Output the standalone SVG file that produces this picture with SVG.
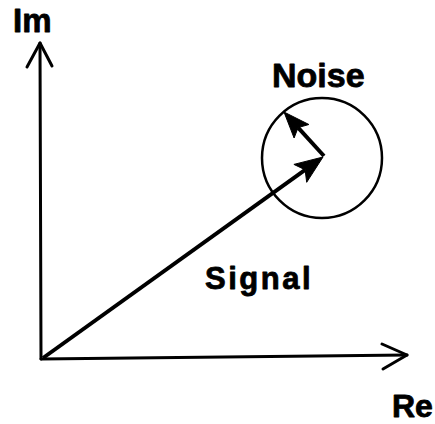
<svg xmlns="http://www.w3.org/2000/svg" width="435" height="424" viewBox="0 0 435 424">
<style>
.lbl{font-family:"Liberation Sans",Arial,sans-serif;font-weight:bold;fill:#000;stroke:#000;stroke-width:0.8;stroke-linejoin:round}
.ax{fill:none;stroke:#000;stroke-width:3;stroke-linecap:round;stroke-linejoin:round}
.vec{fill:none;stroke:#000;stroke-width:4;stroke-linecap:butt;stroke-linejoin:miter}
.head{fill:#000;stroke:#000;stroke-width:1;stroke-linejoin:miter}
</style>
<rect width="435" height="424" fill="#fff"/>
<g id="connectors">
<g id="re-axis">
<path class="ax" d="M41,359 L407,355"/>
<path class="ax" d="M382,344 L407,355 L383,369"/>
</g>
<g id="im-axis">
<path class="ax" d="M41,359 L40,43"/>
<path class="ax" d="M27,67 L40,43 L52,66"/>
</g>
<g id="signal-vector">
<path class="vec" d="M43,358 L305.1,169.8"/>
<polygon class="head" points="323,157 306.7,182.3 305.1,169.8 293.9,164.4"/>
</g>
<g id="noise-vector">
<path class="vec" d="M324,156 L298.1,127.6"/>
<polygon class="head" points="284,112 308.9,124.5 298.1,127.6 294.1,138"/>
</g>
</g>
<g id="noise-circle">
<circle cx="322" cy="158" r="60" fill="none" stroke="#000" stroke-width="2.5"/>
</g>
<g id="label-im"><text class="lbl" x="13" y="32" font-size="33">Im</text></g>
<g id="label-noise"><text class="lbl" x="272" y="87" font-size="34">Noise</text></g>
<g id="label-signal"><text class="lbl" x="205" y="289" font-size="31" letter-spacing="2.5">Signal</text></g>
<g id="label-re"><text class="lbl" x="392" y="417" font-size="32">Re</text></g>
</svg>
